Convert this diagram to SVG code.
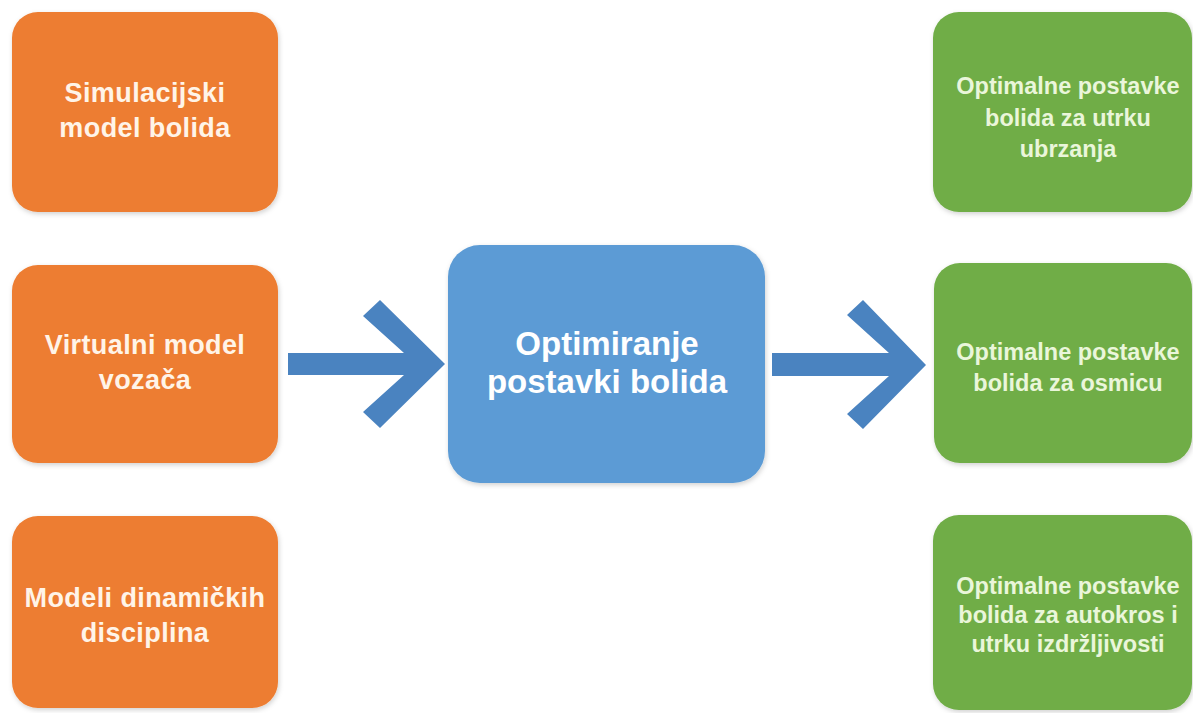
<svg xmlns="http://www.w3.org/2000/svg" width="1193" height="713" viewBox="0 0 1193 713">
<defs>
<filter id="sh" x="-10%" y="-10%" width="120%" height="120%">
<feDropShadow dx="1" dy="2" stdDeviation="2.5" flood-color="#000" flood-opacity="0.18"/>
</filter>
</defs>
<style>
.or{fill:#ED7D31;filter:url(#sh)}
.bl{fill:#5B9BD5;filter:url(#sh)}
.gr{fill:#70AD47;filter:url(#sh)}
.to{font-family:"Liberation Sans",Arial,sans-serif;font-weight:bold;font-size:27px;fill:#FFF4E8;text-anchor:middle;letter-spacing:0.4px}
.tb{font-family:"Liberation Sans",Arial,sans-serif;font-weight:bold;font-size:33px;fill:#FFFFFF;text-anchor:middle}
.tg{font-family:"Liberation Sans",Arial,sans-serif;font-weight:bold;font-size:23.5px;fill:#EAF6DA;text-anchor:middle}
.ar{fill:#4A83C0}
</style>
<rect width="1193" height="713" fill="#FFFFFF"/>
<g id="connectors">
<path class="ar" d="M288,353 H404 L363,316 L380,300 L445,364 L380,428 L363,412 L404,375 H288 Z"/>
<path class="ar" d="M772,353 H889 L847,315 L863,300 L926,365 L863,429 L847,414 L889,376 H772 Z"/>
</g>
<g id="n1">
<rect class="or" x="12" y="12" width="266" height="200" rx="26"/>
<text class="to" x="145" y="102">Simulacijski</text>
<text class="to" x="145" y="137">model bolida</text>
</g>
<g id="n2">
<rect class="or" x="12" y="265" width="266" height="198" rx="26"/>
<text class="to" x="145" y="354">Virtualni model</text>
<text class="to" x="145" y="389">vozača</text>
</g>
<g id="n3">
<rect class="or" x="12" y="516" width="266" height="192" rx="26"/>
<text class="to" x="145" y="607">Modeli dinamičkih</text>
<text class="to" x="145" y="642">disciplina</text>
</g>
<g id="center">
<rect class="bl" x="448" y="245" width="317" height="238" rx="32"/>
<text class="tb" x="607" y="355">Optimiranje</text>
<text class="tb" x="607" y="393">postavki bolida</text>
</g>
<g id="g1">
<rect class="gr" x="933" y="12" width="259" height="200" rx="26"/>
<text class="tg" x="1068" y="94">Optimalne postavke</text>
<text class="tg" x="1068" y="126">bolida za utrku</text>
<text class="tg" x="1068" y="157">ubrzanja</text>
</g>
<g id="g2">
<rect class="gr" x="934" y="263" width="258" height="200" rx="26"/>
<text class="tg" x="1068" y="360">Optimalne postavke</text>
<text class="tg" x="1068" y="391">bolida za osmicu</text>
</g>
<g id="g3">
<rect class="gr" x="933" y="515" width="259" height="195" rx="26"/>
<text class="tg" x="1068" y="594">Optimalne postavke</text>
<text class="tg" x="1068" y="623">bolida za autokros i</text>
<text class="tg" x="1068" y="652">utrku izdržljivosti</text>
</g>
</svg>
